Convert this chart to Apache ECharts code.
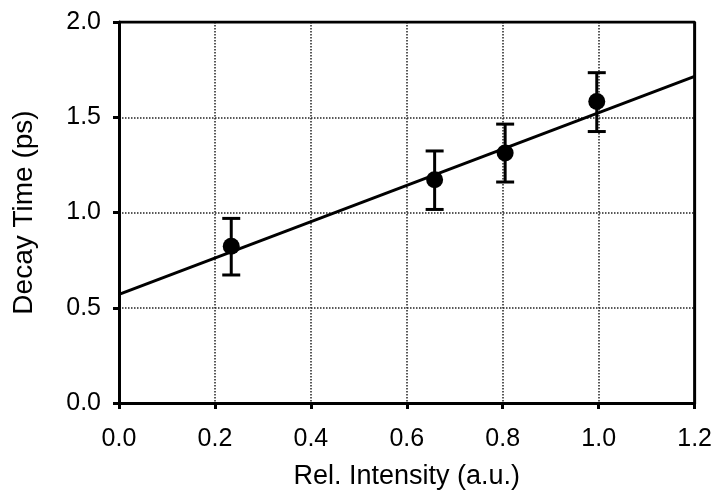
<!DOCTYPE html>
<html>
<head>
<meta charset="utf-8">
<script src="https://cdn.jsdelivr.net/npm/echarts@6/dist/echarts.min.js"></script>
<style>
    html, body { margin: 0; padding: 0; background: #fff; }
</style>
</head>
<body>
<div id="main" style="width:715px;height:495px;"></div>
<script type="text/javascript">
    // measured points
    const intensity = [0.234, 0.658, 0.805, 0.996];
    const decayTime = [0.823, 1.172, 1.312, 1.583];
    const errLow = [0.672, 1.016, 1.160, 1.425];
    const errHigh = [0.969, 1.323, 1.464, 1.734];
    // linear fit
    const fitX = [0.0, 1.2];
    const fitY = [0.57, 1.715];

    const font = 'Liberation Sans';

    let points = intensity.map((x, i) => [x, decayTime[i]]);
    let errData = intensity.map((x, i) => [x, errLow[i], errHigh[i]]);
    let fitData = fitX.map((x, i) => [x, fitY[i]]);

    let myChart = echarts.init(document.getElementById('main'));

    let option = {
        backgroundColor: '#fff',
        animation: false,
        grid: { left: 119, right: 19, top: 22, bottom: 89 },
        xAxis: {
            type: 'value',
            min: 0, max: 1.2, interval: 0.2,
            name: 'Rel. Intensity (a.u.)',
            nameLocation: 'middle',
            nameGap: 60,
            nameTextStyle: { fontFamily: font, fontSize: 27, color: '#000' },
            axisLine: { lineStyle: { color: '#000', width: 3 } },
            axisTick: { show: true, length: 6, lineStyle: { color: '#000', width: 3 } },
            axisLabel: { fontFamily: font, fontSize: 25, color: '#000', margin: 24,
                formatter: v => v.toFixed(1) },
            splitLine: { show: true, lineStyle: { color: '#222', type: 'dotted', width: 1.5 } }
        },
        yAxis: {
            type: 'value',
            min: 0, max: 2, interval: 0.5,
            name: 'Decay Time (ps)',
            nameLocation: 'middle',
            nameGap: 81,
            nameTextStyle: { fontFamily: font, fontSize: 28, color: '#000' },
            axisLine: { lineStyle: { color: '#000', width: 3 } },
            axisTick: { show: true, length: 6, lineStyle: { color: '#000', width: 3 } },
            axisLabel: { fontFamily: font, fontSize: 25, color: '#000', margin: 18,
                formatter: v => v.toFixed(1) },
            splitLine: { show: true, lineStyle: { color: '#222', type: 'dotted', width: 1.5 } }
        },
        series: [
            {
                // frame on top and right
                type: 'line',
                data: [[0, 2], [1.2, 2], [1.2, 0]],
                symbol: 'none',
                lineStyle: { color: '#000', width: 3 },
                silent: true,
                z: 1
            },
            {
                type: 'line',
                data: fitData,
                symbol: 'none',
                lineStyle: { color: '#000', width: 3 },
                z: 3
            },
            {
                type: 'custom',
                data: errData,
                renderItem: function (params, api) {
                    const x = api.value(0);
                    const lo = api.coord([x, api.value(1)]);
                    const hi = api.coord([x, api.value(2)]);
                    const half = 9;
                    const style = { stroke: '#000', lineWidth: 3 };
                    return {
                        type: 'group',
                        children: [
                            { type: 'line', shape: { x1: lo[0], y1: lo[1], x2: hi[0], y2: hi[1] }, style: style },
                            { type: 'line', shape: { x1: lo[0] - half, y1: lo[1], x2: lo[0] + half, y2: lo[1] }, style: style },
                            { type: 'line', shape: { x1: hi[0] - half, y1: hi[1], x2: hi[0] + half, y2: hi[1] }, style: style }
                        ]
                    };
                },
                z: 4
            },
            {
                type: 'scatter',
                data: points,
                symbol: 'circle',
                symbolSize: 17,
                itemStyle: { color: '#000', opacity: 1 },
                z: 5
            }
        ]
    };
    myChart.setOption(option);
</script>
</body>
</html>
